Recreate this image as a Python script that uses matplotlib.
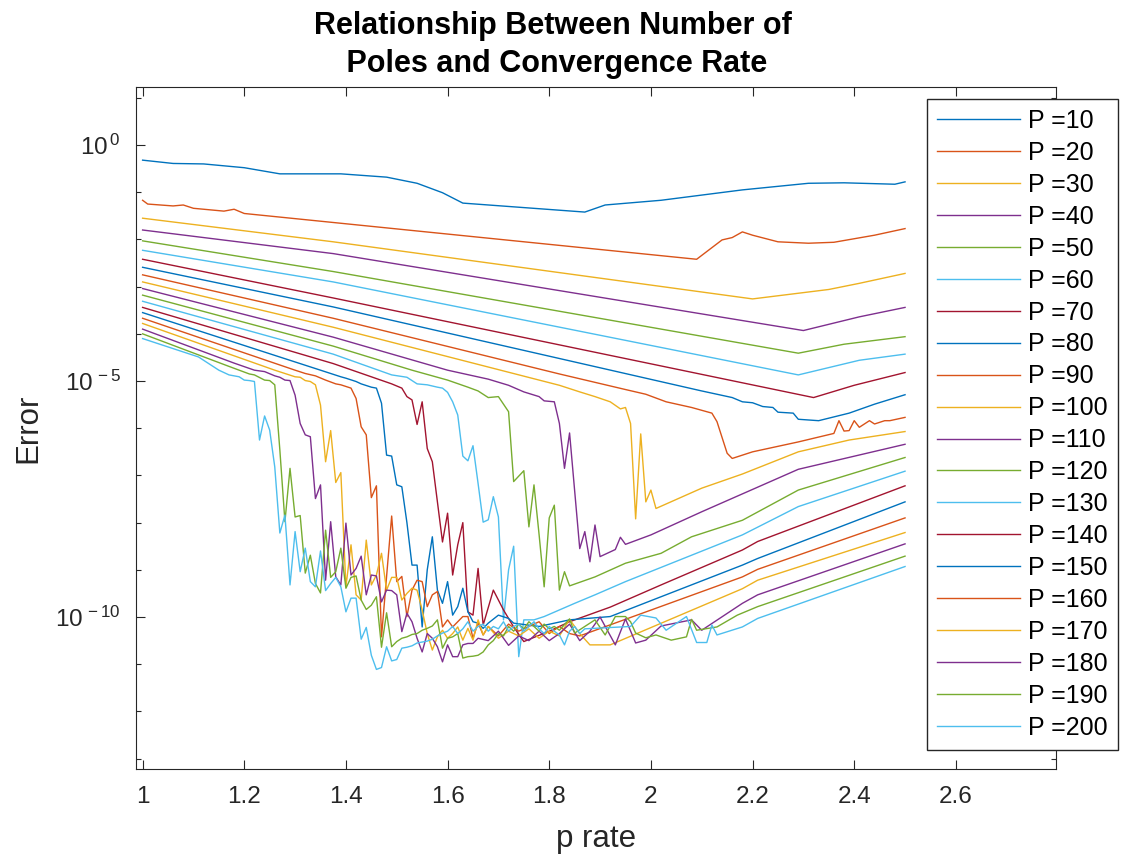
import matplotlib
matplotlib.use("Agg")
import matplotlib.pyplot as plt
from matplotlib.ticker import FixedLocator, FixedFormatter, NullFormatter

plt.rcParams['font.family'] = ['Liberation Sans', 'DejaVu Sans']
plt.rcParams['mathtext.fontset'] = 'custom'
plt.rcParams['mathtext.rm'] = 'Liberation Sans'
plt.rcParams['mathtext.it'] = 'Liberation Sans:italic'

# ---- data: p rate vs log10(error) for each number of poles ----
pole_counts = [10, 20, 30, 40, 50, 60, 70, 80, 90, 100,
               110, 120, 130, 140, 150, 160, 170, 180, 190, 200]

x_p10 = [1.00, 1.06, 1.12, 1.20, 1.27, 1.39, 1.48, 1.54, 1.59, 1.63, 1.87, 1.91, 2.02, 2.18, 2.31, 2.38, 2.48, 2.50]
le_p10 = [-0.32, -0.39, -0.40, -0.48, -0.61, -0.61, -0.68, -0.81, -1.01, -1.23, -1.42, -1.27, -1.17, -0.95, -0.81, -0.80, -0.83, -0.78]

x_p20 = [1.00, 1.01, 1.06, 1.08, 1.10, 1.16, 1.18, 1.20, 2.09, 2.14, 2.16, 2.18, 2.20, 2.25, 2.31, 2.36, 2.44, 2.50]
le_p20 = [-1.17, -1.25, -1.29, -1.27, -1.34, -1.40, -1.36, -1.45, -2.42, -2.01, -1.96, -1.84, -1.91, -2.05, -2.08, -2.06, -1.91, -1.77]

x_p30 = [1.00, 1.375, 2.20, 2.35, 2.41, 2.50]
le_p30 = [-1.55, -2.05, -3.26, -3.06, -2.93, -2.72]

x_p40 = [1.00, 1.375, 2.30, 2.41, 2.50]
le_p40 = [-1.80, -2.30, -3.93, -3.64, -3.44]

x_p50 = [1.00, 1.375, 2.29, 2.38, 2.50]
le_p50 = [-2.03, -2.68, -4.41, -4.22, -4.06]

x_p60 = [1.00, 1.375, 2.29, 2.41, 2.50]
le_p60 = [-2.23, -2.90, -4.87, -4.56, -4.43]

x_p70 = [1.00, 1.375, 2.32, 2.40, 2.50]
le_p70 = [-2.42, -3.24, -5.35, -5.09, -4.82]

x_p80 = [1.00, 1.375, 2.10, 2.13, 2.16, 2.18, 2.20, 2.22, 2.24, 2.25, 2.28, 2.29, 2.33, 2.39, 2.44, 2.50]
le_p80 = [-2.59, -3.43, -5.21, -5.28, -5.35, -5.44, -5.46, -5.54, -5.56, -5.66, -5.68, -5.81, -5.84, -5.68, -5.49, -5.29]

x_p90 = [1.00, 1.375, 1.82, 1.95, 1.99, 2.03, 2.08, 2.12, 2.13, 2.15, 2.16, 2.20, 2.29, 2.36,
         2.37, 2.38, 2.39, 2.40, 2.41, 2.43, 2.44, 2.46, 2.47, 2.50]
le_p90 = [-2.75, -3.67, -4.85, -5.18, -5.28, -5.44, -5.56, -5.68, -5.86, -6.53, -6.64, -6.50, -6.29, -6.11,
          -5.84, -6.06, -6.05, -5.84, -5.98, -5.84, -5.91, -5.84, -5.84, -5.77]

x_p100 = [1.00, 1.375, 1.82, 1.86, 1.89, 1.92, 1.94, 1.95, 1.96, 1.97, 1.98, 1.99, 2.00, 2.01,
          2.10, 2.18, 2.29, 2.39, 2.50]
le_p100 = [-2.90, -3.86, -5.09, -5.23, -5.33, -5.44, -5.59, -5.56, -5.90, -7.92, -6.12, -7.56, -7.31, -7.70,
           -7.27, -6.97, -6.50, -6.25, -6.07]

x_p110 = [1.00, 1.375, 1.60, 1.68, 1.72, 1.75, 1.78, 1.79, 1.81, 1.82, 1.83, 1.84, 1.86, 1.87, 1.88,
          1.89, 1.90, 1.93, 1.94, 1.95, 2.00, 2.10, 2.29, 2.50]
le_p110 = [-3.04, -4.07, -4.77, -4.96, -5.09, -5.23, -5.33, -5.42, -5.44, -5.90, -6.85, -6.10, -8.55, -8.19, -8.83,
           -8.05, -8.72, -8.57, -8.31, -8.46, -8.26, -7.77, -6.87, -6.34]

x_p120 = [1.00, 1.375, 1.53, 1.60, 1.64, 1.66, 1.68, 1.70, 1.72, 1.73, 1.75, 1.76, 1.77, 1.78, 1.79,
          1.80, 1.81, 1.82, 1.83, 1.84, 1.89, 1.95, 2.02, 2.08, 2.18, 2.29, 2.50]
le_p120 = [-3.18, -4.26, -4.77, -4.98, -5.13, -5.21, -5.35, -5.33, -5.65, -7.13, -6.90, -8.09, -7.20, -8.25, -9.36,
           -7.90, -7.63, -9.43, -9.04, -9.34, -9.15, -8.86, -8.65, -8.30, -7.95, -7.31, -6.62]

x_p130 = [1.00, 1.375, 1.49, 1.52, 1.54, 1.56, 1.58, 1.59, 1.60, 1.61, 1.62, 1.63, 1.64, 1.65, 1.66,
          1.67, 1.68, 1.69, 1.70, 1.71, 1.72, 1.73, 1.74, 1.75, 1.77, 1.79, 1.85, 1.89, 1.95, 2.18, 2.29, 2.50]
le_p130 = [-3.31, -4.43, -4.87, -4.92, -5.06, -5.08, -5.13, -5.15, -5.24, -5.44, -5.72, -6.59, -6.69, -6.37, -7.17,
           -7.99, -7.94, -7.45, -7.88, -10.06, -9.00, -8.50, -10.84, -10.06, -10.06, -9.99, -9.71, -9.53, -9.25,
           -8.26, -7.66, -6.91]

x_p140 = [1.00, 1.375, 1.49, 1.51, 1.52, 1.53, 1.54, 1.55, 1.56, 1.57, 1.59, 1.60, 1.61, 1.62, 1.63,
          1.64, 1.65, 1.66, 1.67, 1.69, 1.71, 1.73, 1.75, 1.80, 1.84, 1.92, 2.02, 2.18, 2.21, 2.50]
le_p140 = [-3.44, -4.63, -5.06, -5.15, -5.33, -5.40, -5.92, -5.44, -6.43, -6.71, -8.41, -7.80, -9.11, -8.47, -8.00,
           -9.89, -9.96, -8.97, -10.17, -9.43, -9.85, -10.21, -10.52, -10.30, -10.10, -9.79, -9.32, -8.58, -8.40,
           -7.22]

x_p150 = [1.00, 1.35, 1.39, 1.40, 1.42, 1.43, 1.45, 1.46, 1.47, 1.48, 1.49, 1.50, 1.51, 1.52, 1.53,
          1.54, 1.55, 1.56, 1.57, 1.58, 1.59, 1.60, 1.61, 1.62, 1.63, 1.64, 1.65, 1.66, 1.67, 1.68,
          1.70, 1.72, 1.73, 1.78, 1.84, 1.92, 2.02, 2.18, 2.21, 2.50]
le_p150 = [-3.55, -4.77, -4.91, -4.94, -5.01, -5.06, -5.13, -5.15, -5.47, -6.57, -6.59, -7.20, -7.24, -8.00, -8.90,
           -8.90, -10.21, -9.00, -8.30, -9.43, -9.71, -9.25, -9.96, -9.78, -9.39, -9.89, -10.10, -10.13, -10.24, -10.13,
           -9.96, -10.03, -10.13, -10.20, -10.06, -9.99, -9.57, -8.90, -8.76, -7.56]

x_p160 = [1.00, 1.30, 1.32, 1.34, 1.36, 1.38, 1.39, 1.41, 1.42, 1.43, 1.44, 1.45, 1.46, 1.47, 1.49,
          1.50, 1.51, 1.52, 1.53, 1.54, 1.55, 1.56, 1.57, 1.58, 1.59, 1.60, 1.61, 1.62, 1.63, 1.64,
          1.65, 1.66, 1.67, 1.68, 1.70, 1.72, 1.74, 1.76, 1.78, 1.80, 1.82, 1.84, 1.86, 2.18, 2.21, 2.50]
le_p160 = [-3.67, -4.77, -4.84, -4.89, -4.98, -5.06, -5.08, -5.15, -5.37, -5.97, -6.14, -7.47, -7.22, -10.42, -7.86,
           -9.25, -9.14, -9.99, -9.43, -9.22, -9.25, -9.78, -9.53, -9.46, -10.21, -10.06, -10.21, -10.10, -9.99, -9.99,
           -10.45, -10.12, -10.38, -10.20, -10.40, -10.15, -10.30, -10.20, -10.10, -10.35, -10.20, -10.35, -10.40,
           -9.15, -8.99, -7.90]

x_p170 = [1.00, 1.26, 1.28, 1.30, 1.31, 1.32, 1.33, 1.34, 1.35, 1.36, 1.37, 1.38, 1.39, 1.40, 1.41,
          1.42, 1.43, 1.44, 1.45, 1.46, 1.47, 1.48, 1.49, 1.50, 1.51, 1.52, 1.53, 1.54, 1.55, 1.56,
          1.57, 1.58, 1.59, 1.60, 1.61, 1.62, 1.63, 1.64, 1.65, 1.66, 1.67, 1.68, 1.70, 1.72, 1.74,
          1.76, 1.78, 1.80, 1.82, 1.84, 1.86, 1.88, 1.92, 2.18, 2.21, 2.50]
le_p170 = [-3.78, -4.77, -4.84, -4.91, -4.92, -4.99, -5.01, -5.08, -5.51, -6.71, -6.05, -7.15, -6.94, -9.36, -8.47,
           -9.53, -9.64, -8.37, -9.32, -9.11, -8.65, -9.43, -9.16, -9.16, -9.64, -9.50, -9.39, -9.43, -9.85, -10.35,
           -10.70, -10.42, -10.28, -10.45, -10.35, -10.21, -10.49, -10.24, -10.49, -10.06, -10.38, -10.20, -10.45,
           -10.30, -10.40, -10.25, -10.45, -10.30, -10.40, -10.05, -10.35, -10.59, -10.59, -9.40, -9.22, -8.21]

x_p180 = [1.00, 1.18, 1.22, 1.24, 1.26, 1.27, 1.28, 1.29, 1.30, 1.31, 1.32, 1.33, 1.34, 1.35, 1.36,
          1.37, 1.38, 1.39, 1.40, 1.41, 1.42, 1.43, 1.44, 1.45, 1.46, 1.47, 1.48, 1.49, 1.50, 1.51,
          1.52, 1.53, 1.54, 1.55, 1.56, 1.57, 1.58, 1.59, 1.60, 1.61, 1.62, 1.63, 1.64, 1.65, 1.66,
          1.68, 1.70, 1.72, 1.74, 1.76, 1.78, 1.80, 1.82, 1.84, 1.86, 1.88, 1.90, 1.93, 1.95, 1.97,
          1.99, 2.02, 2.08, 2.10, 2.18, 2.21, 2.50]
le_p180 = [-3.90, -4.62, -4.77, -4.80, -4.89, -4.92, -4.98, -4.99, -5.30, -5.90, -6.14, -6.18, -7.49, -7.20, -9.22,
           -7.98, -9.15, -9.32, -8.01, -9.11, -8.97, -8.71, -9.53, -9.11, -9.13, -9.68, -9.43, -9.44, -9.53, -10.31,
           -9.92, -10.10, -10.45, -10.74, -10.35, -10.45, -10.63, -10.95, -10.59, -10.84, -10.84, -10.59, -10.56,
           -10.56, -10.45, -10.50, -10.30, -10.60, -10.40, -10.50, -10.30, -10.50, -10.35, -10.15, -10.50, -10.30,
           -10.00, -10.59, -10.04, -10.55, -10.49, -10.19, -10.06, -10.28, -9.71, -9.53, -8.45]

x_p190 = [1.00, 1.17, 1.19, 1.21, 1.22, 1.24, 1.25, 1.26, 1.27, 1.28, 1.29, 1.30, 1.31, 1.32, 1.33,
          1.34, 1.35, 1.36, 1.37, 1.38, 1.39, 1.40, 1.41, 1.42, 1.43, 1.44, 1.45, 1.46, 1.47, 1.48,
          1.49, 1.50, 1.51, 1.52, 1.53, 1.54, 1.55, 1.56, 1.57, 1.58, 1.59, 1.60, 1.61, 1.62, 1.63,
          1.64, 1.65, 1.66, 1.67, 1.68, 1.69, 1.70, 1.71, 1.72, 1.73, 1.74, 1.75, 1.76, 1.77, 1.78,
          1.79, 1.80, 1.81, 1.82, 1.84, 1.85, 1.89, 1.91, 1.93, 1.95, 1.96, 1.97, 1.99, 2.01, 2.04,
          2.07, 2.08, 2.09, 2.13, 2.17, 2.21, 2.50]
le_p190 = [-4.00, -4.69, -4.77, -4.85, -4.87, -4.98, -4.99, -5.08, -6.46, -7.98, -6.85, -7.88, -7.85, -9.07, -8.69,
           -9.29, -9.49, -8.16, -9.16, -9.04, -8.54, -9.39, -9.16, -9.13, -9.64, -9.84, -9.75, -9.57, -10.64, -9.91,
           -10.63, -10.52, -10.45, -10.42, -10.37, -10.35, -10.28, -10.24, -10.19, -10.06, -10.66, -10.45, -10.42,
           -10.35, -10.87, -10.84, -10.83, -10.81, -10.74, -10.59, -10.50, -10.35, -10.40, -10.20, -10.30, -10.15,
           -10.25, -10.10, -10.20, -10.30, -10.15, -10.25, -10.20, -10.28, -10.04, -10.34, -10.06, -10.38, -9.99,
           -9.99, -10.10, -10.34, -10.44, -10.38, -10.49, -10.42, -10.05, -10.28, -10.21, -9.96, -9.78, -8.71]

x_p200 = [1.00, 1.11, 1.15, 1.17, 1.19, 1.20, 1.21, 1.22, 1.23, 1.24, 1.25, 1.26, 1.27, 1.28, 1.29,
          1.30, 1.31, 1.32, 1.33, 1.34, 1.35, 1.36, 1.37, 1.38, 1.39, 1.40, 1.41, 1.42, 1.43, 1.44,
          1.45, 1.46, 1.47, 1.48, 1.49, 1.50, 1.51, 1.52, 1.53, 1.54, 1.55, 1.56, 1.57, 1.58, 1.59,
          1.60, 1.61, 1.62, 1.63, 1.64, 1.65, 1.66, 1.67, 1.68, 1.69, 1.70, 1.71, 1.72, 1.73, 1.74,
          1.75, 1.76, 1.77, 1.78, 1.79, 1.80, 1.81, 1.82, 1.83, 1.84, 1.85, 1.86, 1.87, 1.96, 1.98,
          2.01, 2.03, 2.07, 2.09, 2.11, 2.12, 2.13, 2.18, 2.21, 2.50]
le_p200 = [-4.10, -4.49, -4.77, -4.87, -4.91, -4.98, -4.99, -5.01, -6.25, -5.74, -6.04, -6.82, -8.22, -7.84, -9.32,
           -8.19, -9.04, -8.54, -9.25, -9.36, -8.60, -9.44, -9.29, -9.16, -9.36, -9.89, -9.60, -9.60, -10.47, -10.22,
           -10.81, -11.11, -11.07, -10.63, -10.93, -10.90, -10.66, -10.64, -10.61, -10.55, -10.53, -10.51, -10.47,
           -10.40, -10.34, -10.30, -10.20, -10.35, -10.25, -10.10, -10.30, -10.20, -10.15, -10.30, -10.20, -10.25,
           -10.10, -10.30, -10.20, -10.15, -10.30, -10.20, -10.10, -10.25, -10.35, -10.20, -10.30, -10.38, -10.59,
           -10.30, -10.20, -10.35, -10.25, -10.20, -9.96, -10.02, -10.28, -9.99, -10.54, -10.54, -10.17, -10.38,
           -10.21, -10.03, -8.93]

series_x = [x_p10, x_p20, x_p30, x_p40, x_p50, x_p60, x_p70, x_p80, x_p90, x_p100,
            x_p110, x_p120, x_p130, x_p140, x_p150, x_p160, x_p170, x_p180, x_p190, x_p200]
series_le = [le_p10, le_p20, le_p30, le_p40, le_p50, le_p60, le_p70, le_p80, le_p90, le_p100,
             le_p110, le_p120, le_p130, le_p140, le_p150, le_p160, le_p170, le_p180, le_p190, le_p200]

x_ticks = [1.0, 1.2, 1.4, 1.6, 1.8, 2.0, 2.2, 2.4, 2.6]
x_tick_labels = ['1', '1.2', '1.4', '1.6', '1.8', '2', '2.2', '2.4', '2.6']
y_ticks = [1e-10, 1e-5, 1e0]
y_tick_labels = [r'$10^{\,-10}$', r'$10^{\,-5}$', r'$10^{\,0}$']

# MATLAB default line colour order
palette = ['#0072BD', '#D95319', '#EDB120', '#7E2F8E', '#77AC30', '#4DBEEE', '#A2142F']
axis_color = '#262626'

W, H = 1124, 856
fig = plt.figure(figsize=(W / 100, H / 100), dpi=100)
ax_l, ax_r, ax_t, ax_b = 136, 1056, 87, 769
ax = fig.add_axes([ax_l / W, 1 - ax_b / H, (ax_r - ax_l) / W, (ax_b - ax_t) / H])

handles = []
for i, (p, xs, les) in enumerate(zip(pole_counts, series_x, series_le)):
    ys = [10.0 ** v for v in les]
    h, = ax.plot(xs, ys, color=palette[i % len(palette)], lw=1.0, label=f'P ={p}')
    handles.append(h)

ax.set_yscale('log')
ax.set_xlim(0.987, 2.797)
ax.set_ylim(10 ** -13.22, 10 ** 1.23)

ax.xaxis.set_major_locator(FixedLocator(x_ticks))
ax.xaxis.set_major_formatter(FixedFormatter(x_tick_labels))
ax.xaxis.set_minor_locator(FixedLocator([]))
ax.yaxis.set_major_locator(FixedLocator(y_ticks))
ax.yaxis.set_major_formatter(FixedFormatter(y_tick_labels))
ax.yaxis.set_minor_locator(FixedLocator([10.0 ** k for k in range(-13, 2)]))
ax.yaxis.set_minor_formatter(NullFormatter())

ax.tick_params(which='both', direction='in', top=True, right=True,
               color=axis_color, labelcolor=axis_color, width=0.8)
ax.tick_params(which='major', length=6.5, labelsize=17.5)
ax.tick_params(axis='x', which='major', pad=12)
ax.tick_params(axis='y', which='major', pad=11)
ax.tick_params(which='minor', length=3.3)
for s in ax.spines.values():
    s.set_color(axis_color)
    s.set_linewidth(0.8)

ax.set_xlabel('p rate', fontsize=22.5, color=axis_color, labelpad=12)
ax.set_ylabel('Error', fontsize=22.5, color=axis_color, labelpad=9)

fig.text(553 / W, 1 - 45 / H, 'Relationship Between Number of\n Poles and Convergence Rate',
         ha='center', va='center', fontsize=22, fontweight='bold', linespacing=1.36)

fig.legend(handles, [h.get_label() for h in handles], loc='upper left',
           bbox_to_anchor=(927 / W, 1 - 99 / H), borderaxespad=0, fancybox=False,
           edgecolor=axis_color, framealpha=1, fontsize=18, handlelength=3.32,
           handletextpad=0.32, labelspacing=0.317, borderpad=0.4)

fig.savefig('out.png', dpi=100)
